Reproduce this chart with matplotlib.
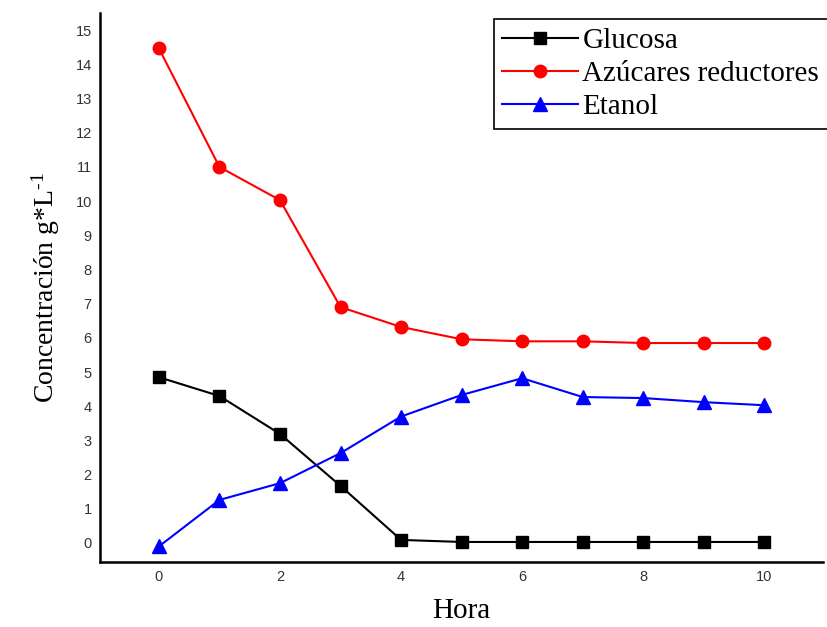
import numpy as np
import matplotlib.pyplot as plt

hora = [0, 1, 2, 3, 4, 5, 6, 7, 8, 9, 10]
glucosa = [4.85, 4.3, 3.19, 1.67, 0.09, 0.03, 0.03, 0.03, 0.03, 0.03, 0.03]
azucares = [14.47, 11.0, 10.03, 6.9, 6.32, 5.96, 5.9, 5.9, 5.85, 5.85, 5.85]
etanol = [-0.1, 1.26, 1.75, 2.63, 3.7, 4.33, 4.82, 4.27, 4.24, 4.12, 4.03]

serif = 'Liberation Serif'
plt.rcParams['mathtext.fontset'] = 'custom'
plt.rcParams['mathtext.rm'] = serif
plt.rcParams['mathtext.default'] = 'regular'

fig = plt.figure(figsize=(8.28, 6.27), dpi=100)
ax = fig.add_axes([0.121, 0.104, 0.873, 0.875])

ax.plot(hora, glucosa, color='black', marker='s', ms=9, lw=1.5, label='Glucosa')
ax.plot(hora, azucares, color='red', marker='o', ms=9, lw=1.5, label='Azúcares reductores')
ax.plot(hora, etanol, color='blue', marker='^', ms=10, lw=1.5, label='Etanol')

ax.set_xlim(-0.97, 10.97)
ax.set_ylim(-0.55, 15.5)
ax.set_xticks([0, 2, 4, 6, 8, 10])
ax.set_yticks(range(0, 16))
ax.tick_params(length=0, labelsize=10.5, colors='#333333', pad=6)
for lbl in ax.get_xticklabels() + ax.get_yticklabels():
    lbl.set_family('Liberation Sans')

for side in ['top', 'right']:
    ax.spines[side].set_visible(False)
for side in ['left', 'bottom']:
    ax.spines[side].set_linewidth(1.8)

ax.set_xlabel('Hora', family=serif, fontsize=21, labelpad=10)
ax.set_ylabel('Concentración g*L$^{\\text{-1}}$', family=serif, fontsize=20, labelpad=10)

leg = fig.legend(loc='upper right', bbox_to_anchor=(1.0, 1 - 19 / 627), borderaxespad=0,
                 prop={'family': serif, 'size': 21}, fancybox=False, edgecolor='black',
                 handlelength=2.6, handletextpad=0.15, labelspacing=0.22, borderpad=0.3,
                 framealpha=1)
leg.get_frame().set_linewidth(1.2)

fig.savefig('out.png', dpi=100)
